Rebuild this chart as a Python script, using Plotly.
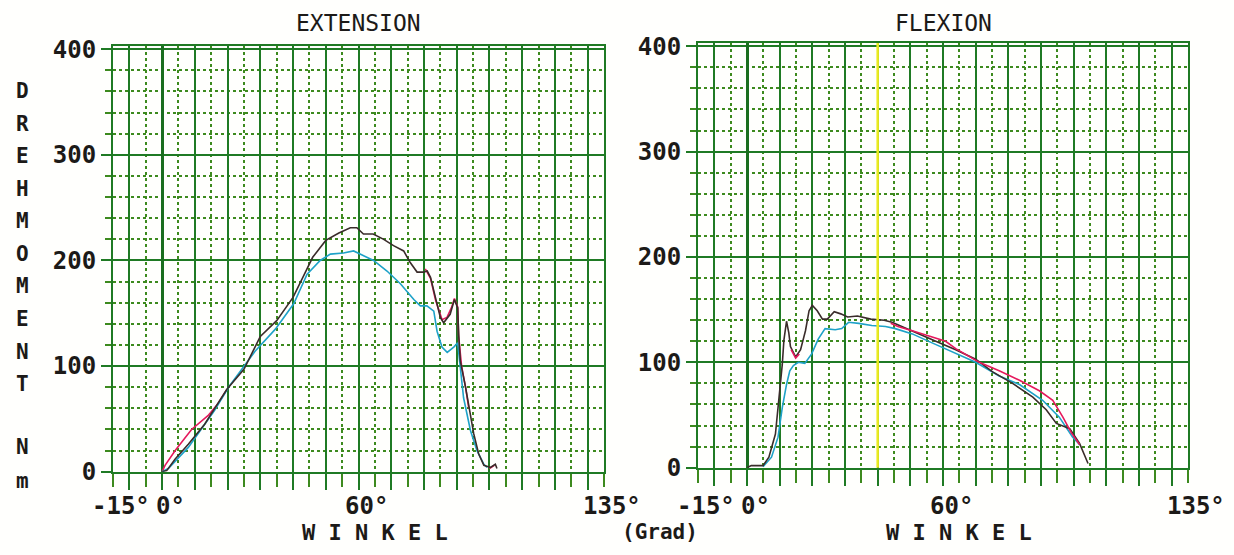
import plotly.graph_objects as go

# ---------------- DATA ----------------
# EXTENSION panel (angle in degrees, torque in Nm)
ext_black_x = [0, 1.4, 4, 8, 13, 17, 19.8, 25, 30, 35, 40, 43, 46, 50, 54, 57.5, 59.5, 61.5, 64.5,
               67.7, 70.7, 73.8, 75.8, 77.9, 79.9, 81, 82, 83.5, 85, 86, 88, 89.3, 90.3, 90.6, 91.1,
               92.7, 93.7, 95.2, 96.7, 98.3, 100.3, 101.8, 102.3]
ext_black_y = [0, 1, 12, 26, 45, 65, 78, 97, 128, 143, 165, 184, 203, 219, 226, 231, 231, 225, 225,
               220, 214, 209, 198, 189, 189, 190, 184, 165, 146, 141, 149, 163, 155, 130, 105,
               80, 61, 36, 17, 6, 4, 7, 3]

ext_red_x = [0, 0.9, 4, 9, 14, 17, 19.8, None, 80.4, 82, 83.5, 85.5, 87, 88.5, 89.3, 90.3, 90.6,
             91.5, 92.7, 93.7, None, 100, 101.5]
ext_red_y = [0, 6, 20, 40, 53, 64, 78, None, 192, 183, 163, 144, 146, 156, 164, 156, 128,
             100, 80, 60, None, 3, 6]

ext_cyan_x = [0, 1.9, 8, 16, 20.3, 28.4, 34.6, 40.2, 44.3, 48.3, 51.4, 55.4, 58.5, 60.6, 64.6,
              68.7, 72.8, 76.9, 78.9, 80.9, 83, 84, 85.5, 87.1, 89.1, 90.3, 91.1, 92.1, 94.2,
              96.2, 98.3, 99.3]
ext_cyan_y = [0, 3, 23, 58, 80, 114, 135, 159, 187, 200, 206, 207, 209, 206, 200,
              190, 178, 163, 157, 157, 152, 133, 118, 113, 118, 122, 99, 70, 39,
              20, 7, 4]

# FLEXION panel
flex_black_x = [0, 1.3, 4.9, 6.7, 8.7, 9.7, 10.8, 11.3, 12.1, 12.8, 13.3, 14.9, 16.4, 17.9, 19,
                20, 21.5, 23.1, 24.6, 26.7, 28.7, 30.8, 33.8, 37.9, 42, 44.4, 50.6, 57.8, 63.9,
                70, 75.2, 81.3, 87.5, 91.6, 94.7, 98.8, 101.8, 104.4]
flex_black_y = [0, 2, 2, 10, 32, 63, 98, 121, 139, 128, 115, 105, 112, 130, 149,
                154, 149, 141, 141, 148, 146, 143, 144, 141, 140, 138, 130, 120, 112,
                103, 91, 80, 67, 55, 42, 37, 23, 4]

flex_red_x = [13.5, 14.9, 16, None, 44, 46.2, 50.6, 54.4, 56.7, 60.8, 63.9, 71.1, 77.2, 83.4,
              89.5, 93.6, 96.7, 99.3, 101.8]
flex_red_y = [112, 104, 108, None, 137, 134, 130, 126, 124, 120, 113, 100, 92, 83,
              73, 64, 48, 33, 22]

flex_cyan_x = [4.9, 7.5, 9.5, 10.8, 12.1, 13.1, 14.2, 15.7, 17.7, 19.8, 21.8, 23.9, 27, 29, 31.1,
               34.2, 38.2, 42.4, 45.4, 50.6, 57, 64, 70, 77.2, 83.4, 90.5, 95.6, 99.7, 101.8]
flex_cyan_y = [1, 10, 29, 57, 79, 92, 97, 100, 99, 108, 122, 132, 131, 132, 138,
               137, 135, 134, 132, 127, 118, 108, 100, 87, 79, 64, 48, 29, 22]

panel_titles = ["EXTENSION", "FLEXION"]
x_tick_vals = [-15, 0, 60, 135]
x_tick_text = ["-15°", "0°", "60°", "135°"]
y_tick_vals = [0, 100, 200, 300, 400]
y_label_letters = "DREHMOMENT"
unit_letters = ["N", "m"]
x_title = "W I N K E L"
x_unit = "(Grad)"
highlight_angle = 40

# ---------------- STYLE ----------------
FONT = "DejaVu Sans Mono"
TXT = "#1c1a18"
GREEN = "#1f7a24"
GREEN_DOT = "#3d8a1e"
C_BLACK = "#3a2c2a"
C_RED = "#e5195c"
C_CYAN = "#1ea2c8"

W, H = 1234, 555

# the page is rendered slightly compressed vertically; map wanted screen rows to figure rows
def vpx(t):
    return (t - 8.93) / 0.9575

def ypaper(t):
    return 1 - vpx(t) / H

fig = go.Figure()

def add_panel(xa, ya, series):
    for xs, ys, col in series:
        fig.add_trace(go.Scatter(x=xs, y=ys, mode="lines", xaxis=xa, yaxis=ya,
                                 line=dict(color=col, width=1.6), connectgaps=False,
                                 showlegend=False, hoverinfo="skip"))

add_panel("x", "y", [(ext_red_x, ext_red_y, C_RED), (ext_cyan_x, ext_cyan_y, C_CYAN),
                     (ext_black_x, ext_black_y, C_BLACK)])
add_panel("x2", "y2", [(flex_cyan_x, flex_cyan_y, C_CYAN), (flex_black_x, flex_black_y, C_BLACK),
                       (flex_red_x, flex_red_y, C_RED)])

def xaxis_cfg(l_px, r_px, anchor):
    return dict(domain=[l_px / W, r_px / W], range=[-15, 135], anchor=anchor,
                tick0=0, dtick=10, showgrid=True, gridcolor=GREEN, gridwidth=2,
                ticks="outside", ticklen=16, tickwidth=2, tickcolor=GREEN,
                showticklabels=False,
                zeroline=True, zerolinecolor="#1a6e1f", zerolinewidth=2.6,
                showline=True, mirror=True, linecolor=GREEN, linewidth=2,
                minor=dict(tick0=0, dtick=5, showgrid=True, gridcolor=GREEN_DOT, gridwidth=1.5,
                           griddash="dot", ticks="outside", ticklen=13, tickwidth=1.5,
                           tickcolor=GREEN_DOT),
                fixedrange=True)

def yaxis_cfg(b_px, t_px, anchor):
    return dict(domain=[ypaper(b_px), ypaper(t_px)], range=[0, 403], anchor=anchor,
                tickvals=y_tick_vals, ticktext=[str(v) for v in y_tick_vals],
                showgrid=True, gridcolor=GREEN, gridwidth=2,
                ticks="outside", ticklen=10, tickwidth=2, tickcolor=GREEN,
                tickfont=dict(family=FONT, size=24, color=TXT, weight="bold"),
                zeroline=False,
                showline=True, mirror=True, linecolor=GREEN, linewidth=2,
                minor=dict(tick0=0, dtick=20, showgrid=True, gridcolor=GREEN_DOT, gridwidth=1.5,
                           griddash="dot", ticks="outside", ticklen=6, tickwidth=1.5,
                           tickcolor=GREEN_DOT),
                fixedrange=True)

fig.update_layout(
    width=W, height=H, autosize=False,
    margin=dict(l=0, r=0, t=0, b=0),
    paper_bgcolor="#fffffd", plot_bgcolor="#fffffd",
    xaxis=xaxis_cfg(113, 604, "y"),
    yaxis=yaxis_cfg(471, 45, "x"),
    xaxis2=xaxis_cfg(698, 1188, "y2"),
    yaxis2=yaxis_cfg(467, 42, "x2"),
    showlegend=False,
)

# yellow-tinted 40° grid line on the FLEXION panel
fig.add_shape(type="line", xref="x2", yref="y2 domain", x0=highlight_angle, x1=highlight_angle,
              y0=0, y1=1, line=dict(color="#ecec20", width=2.5), layer="above")

ann = []
# panel titles
for xr, title in [("x", panel_titles[0]), ("x2", panel_titles[1])]:
    ann.append(dict(x=60, xref=xr, y=ypaper(22), yref="paper", text=title, showarrow=False,
                    font=dict(family=FONT, size=23, color=TXT), xanchor="center", yanchor="middle"))
# x tick labels and axis title
for xr in ["x", "x2"]:
    for v, t in zip(x_tick_vals, x_tick_text):
        ann.append(dict(x=v, xref=xr, y=ypaper(505), yref="paper", text=t, showarrow=False,
                        xshift=8, font=dict(family=FONT, size=24, color=TXT, weight="bold"),
                        xanchor="center", yanchor="middle"))
    ann.append(dict(x=65, xref=xr, y=1 - 546 / H, yref="paper", text=x_title, showarrow=False,
                    font=dict(family=FONT, size=22, color=TXT, weight="bold"), borderpad=0,
                    xanchor="center", yanchor="middle"))
ann.append(dict(x=660 / W, xref="paper", y=1 - 546 / H, yref="paper", text=x_unit, showarrow=False,
                font=dict(family=FONT, size=21, color=TXT, weight="bold"), borderpad=0,
                xanchor="center", yanchor="middle"))
# vertical y-axis title letters
for i, ch in enumerate(y_label_letters):
    ann.append(dict(x=22 / W, xref="paper", y=ypaper(90 + i * 32.6), yref="paper", text=ch,
                    showarrow=False, font=dict(family=FONT, size=21, color=TXT, weight="bold"),
                    xanchor="center", yanchor="middle"))
for i, ch in enumerate(unit_letters):
    ann.append(dict(x=22 / W, xref="paper", y=ypaper(446 + i * 34), yref="paper", text=ch,
                    showarrow=False, font=dict(family=FONT, size=21, color=TXT, weight="bold"),
                    xanchor="center", yanchor="middle"))
fig.update_layout(annotations=ann)

fig.write_html("out.html", config={"responsive": False, "displayModeBar": False})
